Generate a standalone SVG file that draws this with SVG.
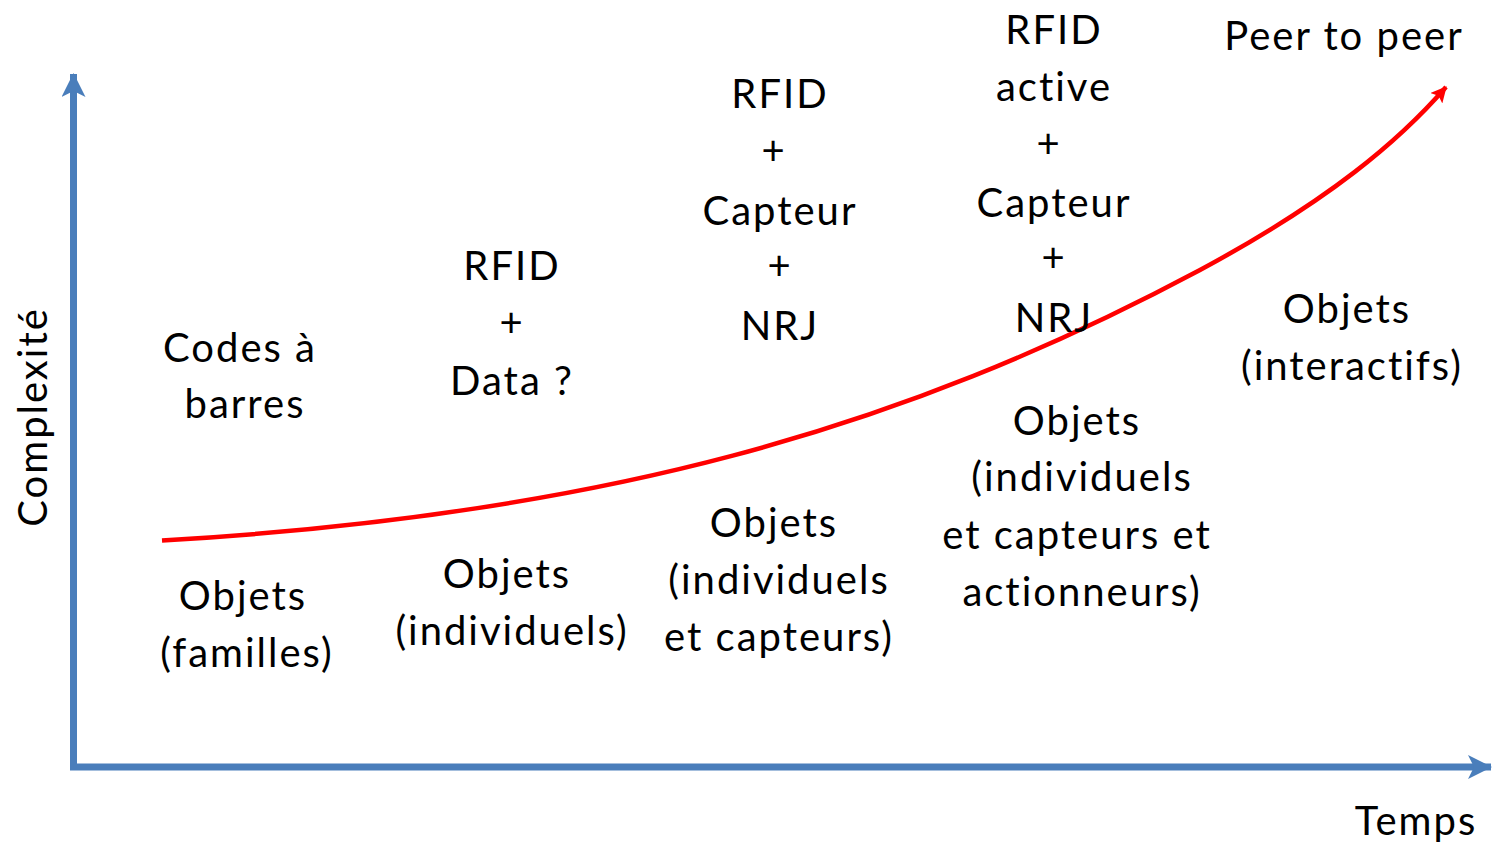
<svg xmlns="http://www.w3.org/2000/svg" width="1493" height="844" viewBox="0 0 1493 844">
<style>
text{font-family:Lato,"Open Sans","Liberation Sans",sans-serif;font-size:40px;letter-spacing:2px;fill:#000;text-anchor:middle}
.axis{stroke:#4a7ebb;stroke-width:7;fill:none}
.curve{stroke:#ff0000;stroke-width:4.5;fill:none}
</style>
<defs>
<marker id="ab" viewBox="0 0 24 24" refX="23" refY="12" markerWidth="24" markerHeight="24" markerUnits="userSpaceOnUse" orient="auto">
<path d="M0,0 L24,12 L0,24 L6,12 Z" fill="#4a7ebb"/>
</marker>
<marker id="ar" viewBox="0 0 14 14" refX="13" refY="7" markerWidth="16" markerHeight="16" markerUnits="userSpaceOnUse" orient="auto">
<path d="M0,0 L14,7 L0,14 L3,7 Z" fill="#ff0000"/>
</marker>
</defs>
<g id="connectors">
<path class="axis" d="M73.5,767 L73.5,74" marker-end="url(#ab)"/>
<path class="axis" d="M70,767 L1491,767" marker-end="url(#ab)"/>
<path class="curve" d="M162,540.5 C600,515 900,430 1200,270 C1330,200 1400,140 1446,87" marker-end="url(#ar)"/>
</g>
<g id="axis-labels">
<text x="1416" y="835">Temps</text>
<text transform="translate(47,417) rotate(-90)">Complexité</text>
</g>
<g id="peer"><text x="1344" y="50">Peer to peer</text></g>
<g id="rfid-active">
<text x="1054" y="44">RFID</text>
<text x="1054" y="101">active</text>
<text x="1049" y="158">+</text>
<text x="1054" y="217">Capteur</text>
<text x="1054" y="272">+</text>
<text x="1054" y="332">NRJ</text>
</g>
<g id="rfid-capteur">
<text x="780" y="108">RFID</text>
<text x="774" y="165">+</text>
<text x="780" y="225">Capteur</text>
<text x="780" y="280">+</text>
<text x="780" y="340">NRJ</text>
</g>
<g id="rfid-data">
<text x="512" y="280">RFID</text>
<text x="512" y="337">+</text>
<text x="512" y="395">Data ?</text>
</g>
<g id="codes"><text x="240" y="362">Codes à</text><text x="245" y="418">barres</text></g>
<g id="obj-familles"><text x="243" y="610">Objets</text><text x="247" y="667">(familles)</text></g>
<g id="obj-individuels"><text x="507" y="588">Objets</text><text x="512" y="645">(individuels)</text></g>
<g id="obj-capteurs"><text x="774" y="537">Objets</text><text x="779" y="594">(individuels</text><text x="779" y="651">et capteurs)</text></g>
<g id="obj-actionneurs"><text x="1077" y="435">Objets</text><text x="1082" y="491">(individuels</text><text x="1077" y="549">et capteurs et</text><text x="1082" y="606">actionneurs)</text></g>
<g id="obj-interactifs"><text x="1347" y="323">Objets</text><text x="1352" y="380">(interactifs)</text></g>
</svg>
